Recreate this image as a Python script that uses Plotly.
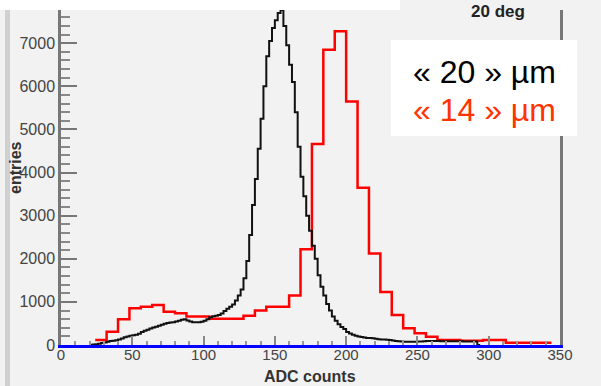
import plotly.graph_objects as go

# ---------------- data ----------------
# black histogram ("20 um"), bin width 2, first bin starts at 20
black_start = 20
black_width = 2
black_counts = [
    0, 10, 20, 30, 45, 60, 75, 90, 100, 110,
    125, 150, 180, 200, 215, 225, 235, 260, 300, 330,
    355, 380, 405, 425, 445, 470, 490, 510, 520, 530,
    545, 560, 585, 596, 570, 545, 530, 525, 530, 540,
    560, 600, 645, 665, 680, 695, 730, 790, 840, 890,
    940, 1030, 1150, 1290, 1550, 1950, 2550, 3250, 3850, 4550,
    5250, 6000, 6700, 7050, 7350, 7530, 7700, 7770, 7400, 6950,
    6500, 6100, 5400, 4600, 3900, 3450, 3000, 2650, 2300, 2000,
    1620, 1350, 1150, 950, 800, 660, 560, 480, 420, 370,
    300, 265, 235, 215, 195, 185, 175, 165, 160, 155,
    145, 135, 130, 125, 120, 115, 105, 95, 85, 80,
    78, 78, 78, 78, 78, 80, 80, 85, 90, 90,
    90, 90, 90, 88, 88, 85, 85, 85, 85, 85,
    85, 82, 82, 80, 80, 80, 0,
]

# red histogram ("14 um"), bin width 8, first bin starts at 24
red_start = 24
red_width = 8
red_counts = [
    116, 310, 600, 850, 890, 930, 770, 735, 660, 660,
    610, 610, 610, 680, 800, 888, 888, 1150, 2220, 4660,
    6850, 7280, 5650, 3650, 2120, 1230, 695, 387, 271, 193,
    116, 116, 100, 100, 116, 116, 54, 54, 54, 54,
]

x_range = [0, 350]
y_range = [0, 7770]
legend_labels = ["« 20 » µm", "« 14 » µm"]
title_text = "20 deg"
x_title = "ADC counts"
y_title = "entries"


def step_xy(start, width, counts):
    xs, ys = [], []
    for i, c in enumerate(counts):
        xs.append(start + i * width)
        ys.append(c)
    xs.append(start + len(counts) * width)
    ys.append(counts[-1])
    return xs, ys


W, H = 601, 386
ML, MR, MT, MB = 61, 41, 10, 41
pw = W - ML - MR
ph = H - MT - MB


def px_x(p):
    return (p - ML) / pw


def px_y(p):
    return (H - MB - p) / ph


fig = go.Figure()

rx, ry = step_xy(red_start, red_width, red_counts)
fig.add_trace(go.Scatter(x=rx, y=ry, mode="lines", line_shape="hv",
                         line=dict(color="#ff0000", width=2.5), showlegend=False))
bx, by = step_xy(black_start, black_width, black_counts)
fig.add_trace(go.Scatter(x=bx, y=by, mode="lines", line_shape="hv",
                         line=dict(color="#111111", width=2), showlegend=False))

fig.update_layout(
    width=W, height=H,
    margin=dict(l=ML, r=MR, t=MT, b=MB, pad=0, autoexpand=False),
    paper_bgcolor="#f2f2f2", plot_bgcolor="#f2f2f2",
    font=dict(family="Liberation Sans, Arial", color="#333333"),
    showlegend=False,
)

fig.update_xaxes(
    range=x_range, showgrid=False, zeroline=False, automargin=False,
    showline=True, linecolor="#0000ff", linewidth=3,
    ticks="inside", ticklen=9, tickwidth=1.5, tickcolor="#888888",
    tick0=0, dtick=50, ticklabelstandoff=-6,
    minor=dict(ticks="inside", ticklen=4, tickwidth=1.5, tickcolor="#999999", dtick=10, showgrid=False),
    tickfont=dict(size=15, color="#444444"),
    title=dict(text=""),
)
fig.update_yaxes(
    range=y_range, showgrid=False, zeroline=False, automargin=False,
    showline=True, linecolor="#777777", linewidth=2.5, mirror=True,
    ticks="inside", ticklen=16, tickwidth=2, tickcolor="#777777",
    tick0=0, dtick=1000,
    minor=dict(ticks="inside", ticklen=9, tickwidth=2, tickcolor="#888888", dtick=200, showgrid=False),
    tickfont=dict(size=16, color="#444444"),
    title=dict(text=""),
)

shapes = [
    # left grey bar
    dict(type="rect", xref="paper", yref="paper",
         x0=px_x(5), x1=px_x(10), y0=px_y(386), y1=px_y(10),
         fillcolor="#d0d0d0", line=dict(width=0), layer="below"),
    # top white strip
    dict(type="rect", xref="paper", yref="paper",
         x0=px_x(0), x1=px_x(400), y0=px_y(10), y1=px_y(0),
         fillcolor="#ffffff", line=dict(width=0), layer="above"),
    # legend box
    dict(type="rect", xref="paper", yref="paper",
         x0=px_x(391), x1=px_x(577), y0=px_y(136), y1=px_y(40),
         fillcolor="#ffffff", line=dict(width=0), layer="above"),
]
fig.update_layout(shapes=shapes)

annotations = [
    dict(text=legend_labels[0], xref="paper", yref="paper", x=px_x(484), y=px_y(72),
         xanchor="center", yanchor="middle", showarrow=False,
         font=dict(size=32, color="#000000", family="Liberation Sans, Arial")),
    dict(text=legend_labels[1], xref="paper", yref="paper", x=px_x(484), y=px_y(110),
         xanchor="center", yanchor="middle", showarrow=False,
         font=dict(size=32, color="#ff3300", family="Liberation Sans, Arial")),
    dict(text="<b>" + title_text + "</b>", xref="paper", yref="paper", x=px_x(498), y=px_y(11),
         xanchor="center", yanchor="middle", showarrow=False,
         font=dict(size=17, color="#222222")),
    dict(text="<b>" + y_title + "</b>", xref="paper", yref="paper", x=px_x(15), y=px_y(168),
         xanchor="center", yanchor="middle", showarrow=False, textangle=-90,
         font=dict(size=16, color="#333333")),
    dict(text="<b>" + x_title + "</b>", xref="paper", yref="paper", x=px_x(310), y=px_y(376),
         xanchor="center", yanchor="middle", showarrow=False,
         font=dict(size=16, color="#333333")),
]
fig.update_layout(annotations=annotations)

fig.write_html("out.html")
